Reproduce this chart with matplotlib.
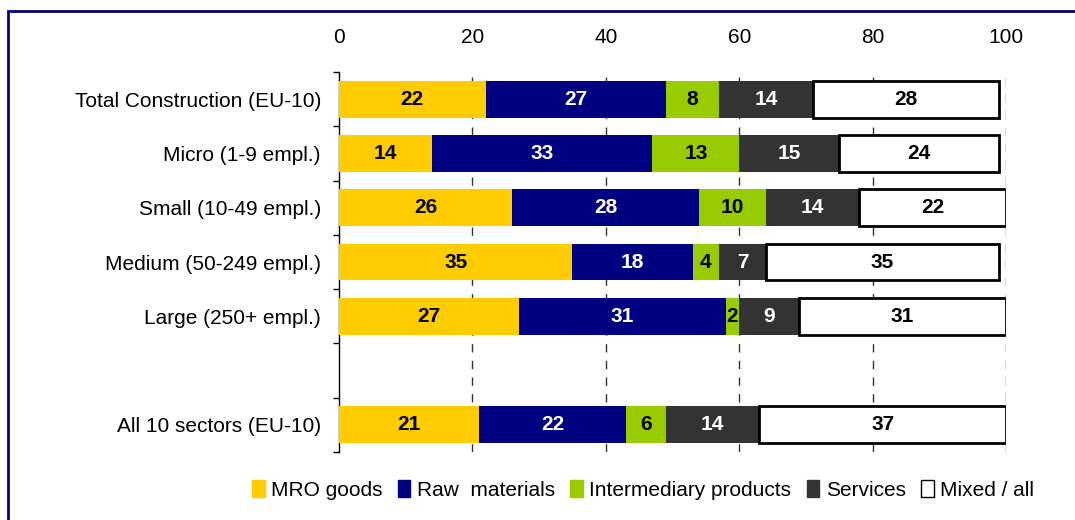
import matplotlib.pyplot as plt
import numpy as np
from matplotlib.patches import Rectangle

plt.rcParams['font.family'] = ['Liberation Sans', 'DejaVu Sans']

categories = ["Total Construction (EU-10)", "Micro (1-9 empl.)", "Small (10-49 empl.)",
              "Medium (50-249 empl.)", "Large (250+ empl.)", "", "All 10 sectors (EU-10)"]
series_names = ["MRO goods", "Raw  materials", "Intermediary products", "Services", "Mixed / all"]
mro = [22, 14, 26, 35, 27, None, 21]
raw = [27, 33, 28, 18, 31, None, 22]
intermediary = [8, 13, 10, 4, 2, None, 6]
services = [14, 15, 14, 7, 9, None, 14]
mixed = [28, 24, 22, 35, 31, None, 37]
xticks = [0, 20, 40, 60, 80, 100]

colors = ["#FFCC00", "#000080", "#99CC00", "#333333", "#FFFFFF"]
text_colors = ["black", "white", "black", "white", "black"]

fig = plt.figure(figsize=(10.75, 5.2), dpi=100)
ax = fig.add_axes([339 / 1075, 1 - 452 / 520, 667 / 1075, 380 / 520])

ypos = np.arange(len(categories))
filled = [i for i, c in enumerate(categories) if c]
left = np.zeros(len(categories))
handles = []
for vals, name, col, tcol in zip([mro, raw, intermediary, services, mixed],
                                 series_names, colors, text_colors):
    v = np.array([0 if x is None else x for x in vals], dtype=float)
    white = col == "#FFFFFF"
    bars = ax.barh(ypos[filled], v[filled], left=left[filled], height=0.68, color=col,
                   edgecolor="black" if white else col, linewidth=2 if white else 0,
                   zorder=3)
    for i in filled:
        ax.text(left[i] + v[i] / 2, ypos[i], str(vals[i]), ha="center", va="center",
                color=tcol, fontsize=15, fontweight="bold", zorder=4)
    left += v
    handles.append(bars)

ax.set_xlim(0, 100)
ax.set_ylim(6.5, -0.5)
ax.xaxis.tick_top()
ax.set_xticks(xticks)
ax.tick_params(axis="x", length=0, pad=18, labelsize=15)
ax.set_yticks(ypos)
ax.set_yticklabels(categories)
ax.tick_params(axis="y", which="major", length=0, pad=13, labelsize=15)
ax.set_yticks(np.arange(-0.5, 7, 1), minor=True)
ax.tick_params(axis="y", which="minor", length=4, width=1, direction="out")

for x in xticks[1:]:
    ax.axvline(x, color="#333333", linewidth=1, linestyle=(0, (6, 6)), zorder=1)

for s in ["top", "right", "bottom"]:
    ax.spines[s].set_visible(False)
ax.spines["left"].set_linewidth(1)

leg = fig.legend(handles, series_names, loc="center", bbox_to_anchor=(643 / 1075, 1 - 490 / 520),
                 ncol=5, frameon=False, handlelength=0.6, handleheight=0.9,
                 handletextpad=0.3, columnspacing=0.75, fontsize=15)
for h in leg.legend_handles:
    h.set_linewidth(1)

# dark blue frame around the chart area
fig.patches.append(Rectangle((7.5 / 1075, -0.1), 1.2, 1 - 10.5 / 520 + 0.1,
                             transform=fig.transFigure, fill=False,
                             edgecolor="#000080", linewidth=2))

fig.savefig("out.png", dpi=100)
